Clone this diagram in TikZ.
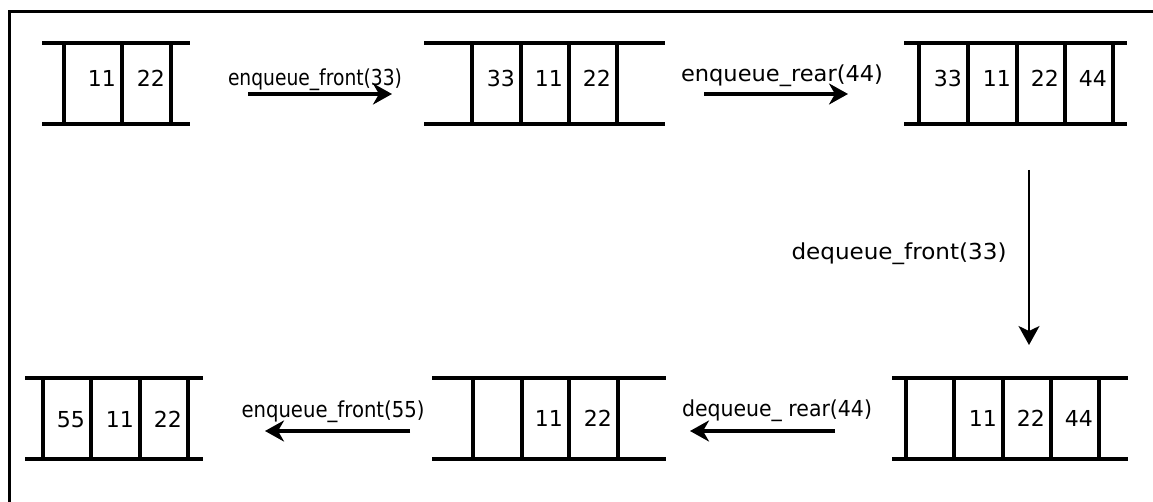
\documentclass[tikz,border=0pt]{standalone}
\usepackage{fontspec}
\setmainfont{DejaVu Sans}
\usepackage{graphicx}
\usetikzlibrary{arrows.meta}

\newcommand{\fitlabel}[2]{\resizebox{#1}{\height}{#2}}

\begin{document}
\begin{tikzpicture}[x=1pt,y=-1pt,
      deque_line/.style={
         draw=black,
         line width=3.2pt},
      cell_num/.style={
         anchor=base east,
         inner sep=0pt,
         font=\fontsize{22}{26}\selectfont},
      op_label/.style={
         anchor=base,
         inner sep=0pt,
         font=\fontsize{22}{26}\selectfont},
      arrow_op/.style={
         -{Stealth[length=19pt,width=21pt,inset=6pt]},
         line width=3.2pt},
      arrow_thin/.style={
         -{Stealth[length=19pt,width=21pt,inset=5pt]},
         line width=2pt}
]
      \useasboundingbox (0,0) rectangle (1153,502);

      %frame
      \draw[line width=3.6pt] (9.5,502) -- (9.5,11.5) -- (1153,11.5);

      %rails
      \foreach \xa/\xb/\yt/\yb in {% left/right/top/bottom
        42/190/43/124, 424/665/43/124, 904/1127/43/124,
        25/203/378/459, 432/666/378/459, 892/1128/378/459}
      \draw[deque_line] (\xa,\yt) -- (\xb,\yt) (\xa,\yb) -- (\xb,\yb);

      %cell walls
      \foreach \x in {64,122,171,472,521,569,617,919,968,1017,1065,1113}
      \draw[deque_line] (\x,43) -- (\x,124);
      \foreach \x in {43,91,140,188,473,522,569,618,906,954,1003,1051,1099}
      \draw[deque_line] (\x,378) -- (\x,459);

      %values
      \foreach \n/\x/\y/\v in {% name/right wall/baseline/value
        q1b/122/87/11, q1c/171/87/22,
        q2b/521/87/33, q2c/569/87/11, q2d/617/87/22,
        q3b/968/87/33, q3c/1017/87/11, q3d/1065/87/22, q3e/1113/87/44,
        q4c/1003/426/11, q4d/1051/426/22, q4e/1099/426/44,
        q5c/569/426/11, q5d/618/426/22,
        q6a/91/427/55, q6b/140/427/11, q6c/188/427/22}
      \node[cell_num] (\n) at (\x-6,\y) {\v};

      %operations
      \coordinate (a1s) at (248,94);   \coordinate (a1e) at (392,94);
      \coordinate (a2s) at (704,94);   \coordinate (a2e) at (848,94);
      \coordinate (a3s) at (1029,170); \coordinate (a3e) at (1029,345);
      \coordinate (a4s) at (835,431);  \coordinate (a4e) at (690,431);
      \coordinate (a5s) at (410,431);  \coordinate (a5e) at (265,431);

      \foreach \i/\j in {a1s/a1e, a2s/a2e, a4s/a4e, a5s/a5e}
      \draw[arrow_op] (\i) -- (\j);
      \draw[arrow_thin] (a3s) -- (a3e);

      \node[op_label] (l1) at (315,86)  {\fitlabel{174pt}{enqueue\_front(33)}};
      \node[op_label] (l2) at (782,82)  {\fitlabel{202pt}{enqueue\_rear(44)}};
      \node[op_label] (l3) at (899,260) {\fitlabel{215pt}{dequeue\_front(33)}};
      \node[op_label] (l4) at (777,416) {\fitlabel{190pt}{dequeue\_ rear(44)}};
      \node[op_label] (l5) at (333,417) {\fitlabel{183pt}{enqueue\_front(55)}};

\end{tikzpicture}
\end{document}
